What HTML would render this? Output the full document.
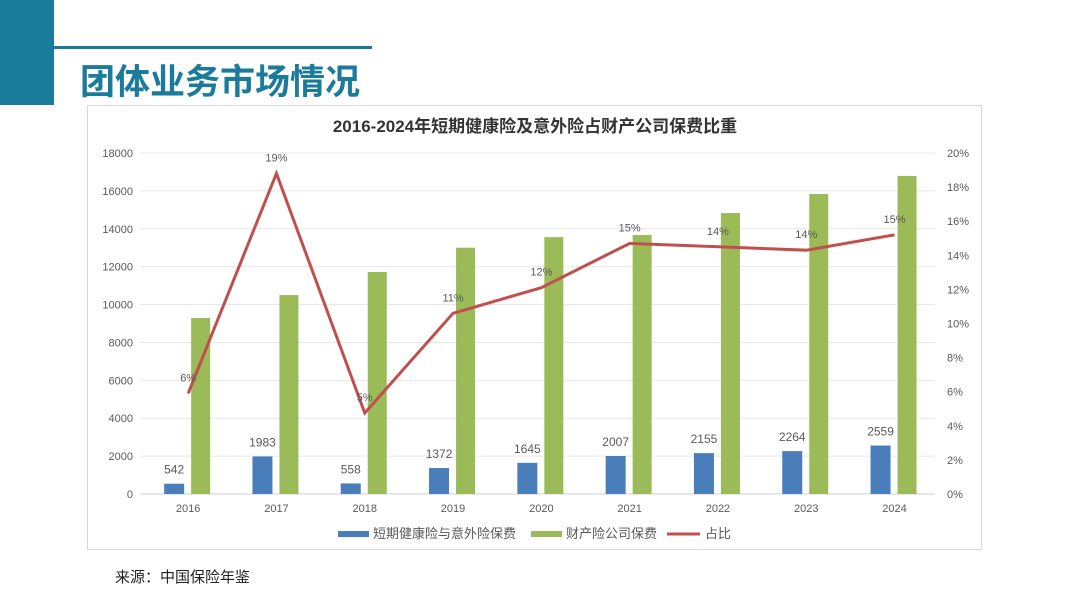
<!DOCTYPE html>
<html><head><meta charset="utf-8">
<style>
body{margin:0;width:1080px;height:608px;background:#fff;position:relative;overflow:hidden;font-family:"Liberation Sans","Noto Sans CJK SC",sans-serif;}
.abs{position:absolute;}
</style></head>
<body>
<div class="abs" style="left:0;top:0;width:54px;height:105px;background:#1b7b9b"></div>
<div class="abs" style="left:54px;top:46px;width:318px;height:3px;background:#1b7b9b"></div>
<div class="abs" style="left:80px;top:54px;font-size:35px;font-weight:bold;color:#1b7b9b;font-family:'Liberation Sans','Noto Sans CJK SC',sans-serif;">团体业务市场情况</div>
<div class="abs" style="left:87px;top:105px;width:895px;height:445px;border:1px solid #d9d9d9;box-sizing:border-box"></div>
<div class="abs" style="left:115px;top:566px;font-size:15px;color:#222">来源：中国保险年鉴</div>
<svg class="abs" style="left:0;top:0" width="1080" height="608" id="chart"></svg>
<script>
const categories=["2016","2017","2018","2019","2020","2021","2022","2023","2024"];
const shortHealth=[542,1983,558,1372,1645,2007,2155,2264,2559];
const propertyPremium=[9290,10500,11720,13000,13560,13670,14830,15840,16790];
const ratio=[5.9,18.8,4.75,10.6,12.1,14.7,14.5,14.3,15.2];
const ratioLabels=["6%","19%","5%","11%","12%","15%","14%","14%","15%"];
const leftTicks=[0,2000,4000,6000,8000,10000,12000,14000,16000,18000];
const rightTicks=[0,2,4,6,8,10,12,14,16,18,20];
const NS="http://www.w3.org/2000/svg";
const svg=document.getElementById('chart');
const x0=144,step=88.3,yb=494,yt=153;
const xc=i=>x0+step*(i+0.5);
const yL=v=>yb-(v/18000)*(yb-yt);
const yR=v=>yb-(v/20)*(yb-yt);
function mk(t,a){const e=document.createElementNS(NS,t);for(const k in a)e.setAttribute(k,a[k]);svg.appendChild(e);return e;}
function txt(s,x,y,a){const e=mk('text',Object.assign({x:x,y:y,'font-size':11,fill:'#595959','font-family':'Liberation Sans, Noto Sans CJK SC, sans-serif'},a));e.textContent=s;return e;}
let t=txt("2016-2024年短期健康险及意外险占财产公司保费比重",535,132,{'text-anchor':'middle','font-size':17,'font-weight':'bold',fill:'#333','font-family':'Liberation Sans, Noto Sans CJK SC, sans-serif'});

leftTicks.forEach(v=>{const g=mk('line',{x1:140,x2:935,y1:yL(v),y2:yL(v),stroke:v?'#e8e8e8':'#d0d0d0','stroke-width':1});
const l=txt(String(v),133,yL(v)+4,{'text-anchor':'end'});});
rightTicks.forEach(v=>{const l=txt(v+'%',947,yR(v)+4,{});});
categories.forEach((c,i)=>{const l=txt(c,xc(i),512,{'text-anchor':'middle'});
const b=mk('rect',{x:xc(i)-24,y:yL(shortHealth[i]),width:20,height:yb-yL(shortHealth[i]),fill:'#4a7ebb'});
const g=mk('rect',{x:xc(i)+3,y:yL(propertyPremium[i]),width:19,height:yb-yL(propertyPremium[i]),fill:'#9bbb59'});
const v=txt(String(shortHealth[i]),xc(i)-14,yL(shortHealth[i])-10,{'text-anchor':'middle','font-size':12});});
const p=mk('polyline',{points:ratio.map((v,i)=>xc(i)+','+yR(v)).join(' '),fill:'none',stroke:'#c0504d','stroke-width':3,'stroke-linejoin':'miter'});

ratio.forEach((v,i)=>{const l=txt(ratioLabels[i],xc(i),yR(v)-12,{'text-anchor':'middle','font-size':11});});
let e;
e=mk('rect',{x:338,y:531,width:31,height:6,fill:'#4a7ebb'});
e=txt('短期健康险与意外险保费',373,538,{'font-size':13});
e=mk('rect',{x:531,y:531,width:31,height:6,fill:'#9bbb59'});
e=txt('财产险公司保费',566,538,{'font-size':13});
e=mk('line',{x1:667,x2:700,y1:534,y2:534,stroke:'#c0504d','stroke-width':3});
e=txt('占比',705,538,{'font-size':13});
</script>
</body></html>
